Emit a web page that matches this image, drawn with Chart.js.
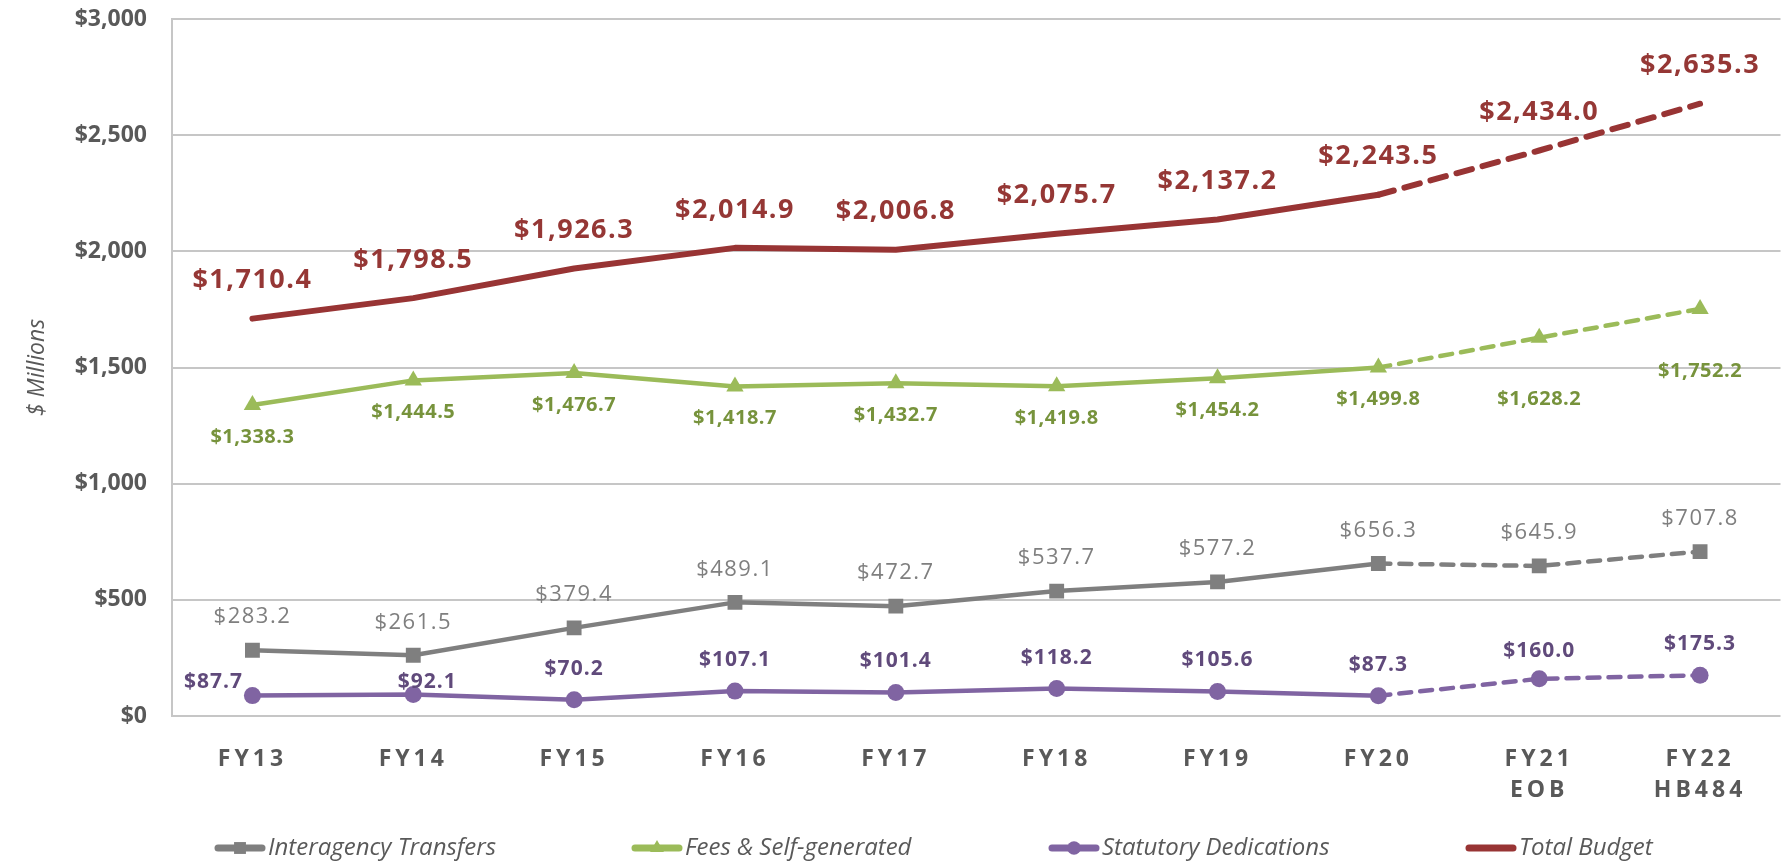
<!DOCTYPE html>
<html><head><meta charset="utf-8">
<script src="https://cdn.jsdelivr.net/npm/chart.js@4.4.0/dist/chart.umd.min.js"></script>
<style>html,body{margin:0;padding:0;background:#fff}</style>
</head><body>
<canvas id="c" width="1791" height="863"></canvas>
<script>
const categories = [['FY13'],['FY14'],['FY15'],['FY16'],['FY17'],['FY18'],['FY19'],['FY20'],['FY21','EOB'],['FY22','HB484']];
const interagencyTransfers = [283.2, 261.5, 379.4, 489.1, 472.7, 537.7, 577.2, 656.3, 645.9, 707.8];
const feesSelfGenerated = [1338.3, 1444.5, 1476.7, 1418.7, 1432.7, 1419.8, 1454.2, 1499.8, 1628.2, 1752.2];
const statutoryDedications = [87.7, 92.1, 70.2, 107.1, 101.4, 118.2, 105.6, 87.3, 160.0, 175.3];
const totalBudget = [1710.4, 1798.5, 1926.3, 2014.9, 2006.8, 2075.7, 2137.2, 2243.5, 2434.0, 2635.3];
const seriesNames = ['Interagency Transfers', 'Fees & Self-generated', 'Statutory Dedications', 'Total Budget'];
const yMin = 0, yMax = 3000, yStep = 500;
const firstProjectedIndex = 7;

const FONT = '"Open Sans", "DejaVu Sans", sans-serif';
const fmt = v => '$' + v.toLocaleString('en-US', {minimumFractionDigits: 1, maximumFractionDigits: 1});

// label style per dataset (positions/styles kept apart from data)
const labelStyle = [
  {color: '#7F7F7F', font: '400 22px ' + FONT, dy: -33, spacing: '1.5px', over: {}},
  {color: '#77933C', font: '700 20px ' + FONT, dy: 32, spacing: '0.5px', over: {8: {dy: 62}, 9: {dy: 62}}},
  {color: '#604A7B', font: '700 21px ' + FONT, dy: -31, spacing: '1px', over: {0: {dx: -39, dy: -14}, 1: {dx: 14, dy: -13}, 8: {dy: -28}}},
  {color: '#953735', font: '700 27px ' + FONT, dy: -38, spacing: '1.5px', over: {}}
];

const dataLabelPlugin = {
  id: 'dataLabels',
  afterDatasetsDraw(chart) {
    const ctx = chart.ctx;
    chart.data.datasets.forEach((ds, i) => {
      const meta = chart.getDatasetMeta(i);
      const st = labelStyle[i];
      meta.data.forEach((pt, j) => {
        const o = st.over[j] || {};
        const dx = o.dx || 0, dy = (o.dy !== undefined) ? o.dy : st.dy;
        ctx.save();
        ctx.font = st.font;
        ctx.fillStyle = st.color;
        ctx.letterSpacing = st.spacing;
        ctx.textAlign = 'center';
        ctx.textBaseline = 'middle';
        ctx.fillText(fmt(ds.data[j]), pt.x + dx, pt.y + dy);
        ctx.restore();
      });
    });
  }
};

const legendPlugin = {
  id: 'customLegend',
  afterDraw(chart) {
    const ctx = chart.ctx;
    const y = 848, start = 215, step = 417, lineLen = 50;
    chart.data.datasets.forEach((ds, i) => {
      const x = start + i * step;
      ctx.save();
      ctx.strokeStyle = ds.borderColor;
      ctx.lineWidth = 7;
      ctx.lineCap = 'round';
      ctx.beginPath();
      ctx.moveTo(x + 3, y); ctx.lineTo(x + lineLen - 3, y);
      ctx.stroke();
      if (ds.pointRadius > 0) {
        ctx.fillStyle = ds.pointBackgroundColor;
        Chart.helpers.drawPoint(ctx, {pointStyle: ds.pointStyle, radius: ds.pointRadius * 0.8, rotation: 0, borderWidth: 0}, x + lineLen / 2, y);
      }
      ctx.font = 'italic 400 24px ' + FONT;
      ctx.fillStyle = '#595959';
      ctx.textAlign = 'left';
      ctx.textBaseline = 'middle';
      ctx.fillText(ds.label, x + lineLen + 3, y);
      ctx.restore();
    });
  }
};

const letterSpacingX = {
  id: 'letterSpacingX',
  afterLayout(chart) {
    const sx = chart.scales.x;
    if (sx._lsWrapped) return;
    const orig = sx.drawLabels;
    sx.drawLabels = function(area) {
      const c = this.ctx;
      c.save(); c.letterSpacing = '4px'; orig.call(this, area); c.restore();
    };
    sx._lsWrapped = true;
  }
};

function dash(pattern) {
  return c => (c.p0DataIndex >= firstProjectedIndex ? pattern : []);
}

function mkDataset(label, data, color, pointStyle, radius, width, pattern) {
  return {
    label, data,
    borderColor: color, backgroundColor: color,
    pointBackgroundColor: color, pointBorderColor: color, pointBorderWidth: 0,
    pointStyle, pointRadius: radius, pointHoverRadius: radius,
    borderWidth: width, borderCapStyle: 'round', borderJoinStyle: 'round',
    tension: 0, fill: false,
    segment: {borderDash: dash(pattern)}
  };
}

new Chart(document.getElementById('c'), {
  type: 'line',
  data: {
    labels: categories,
    datasets: [
      mkDataset(seriesNames[0], interagencyTransfers, '#7F7F7F', 'rect', 10.5, 4.5, [12, 9]),
      mkDataset(seriesNames[1], feesSelfGenerated, '#9BBB59', 'triangle', 10, 4.5, [12, 9]),
      mkDataset(seriesNames[2], statutoryDedications, '#8064A2', 'circle', 8.5, 4.5, [12, 9]),
      mkDataset(seriesNames[3], totalBudget, '#983434', 'circle', 0, 6, [16, 11])
    ]
  },
  options: {
    responsive: false,
    animation: false,
    devicePixelRatio: 1,
    layout: {padding: {top: 0, right: 8, left: 0, bottom: 57}},
    plugins: {legend: {display: false}, tooltip: {enabled: false}},
    scales: {
      x: {
        type: 'category',
        offset: true,
        grid: {display: false, drawTicks: false},
        border: {display: false},
        ticks: {color: '#595959', font: {family: FONT, size: 23, weight: '700', lineHeight: 1.35}, padding: 28, maxRotation: 0, autoSkip: false},
        afterFit(s) { s.height = 90; }
      },
      y: {
        min: yMin, max: yMax,
        ticks: {stepSize: yStep, color: '#595959', font: {family: FONT, size: 23, weight: '700'}, padding: 25,
          callback: v => '$' + v.toLocaleString('en-US')},
        grid: {color: '#C6C6C6', lineWidth: 2, drawTicks: false},
        border: {display: true, color: '#C6C6C6', width: 2},
        title: {display: true, text: '$ Millions', color: '#595959', font: {family: FONT, size: 23, style: 'italic', weight: '400'}, padding: {top: 24, bottom: 0}},
        afterFit(s) { s.width = 172; s.paddingTop = 19; }
      }
    }
  },
  plugins: [dataLabelPlugin, legendPlugin, letterSpacingX]
});
</script>
</body></html>
